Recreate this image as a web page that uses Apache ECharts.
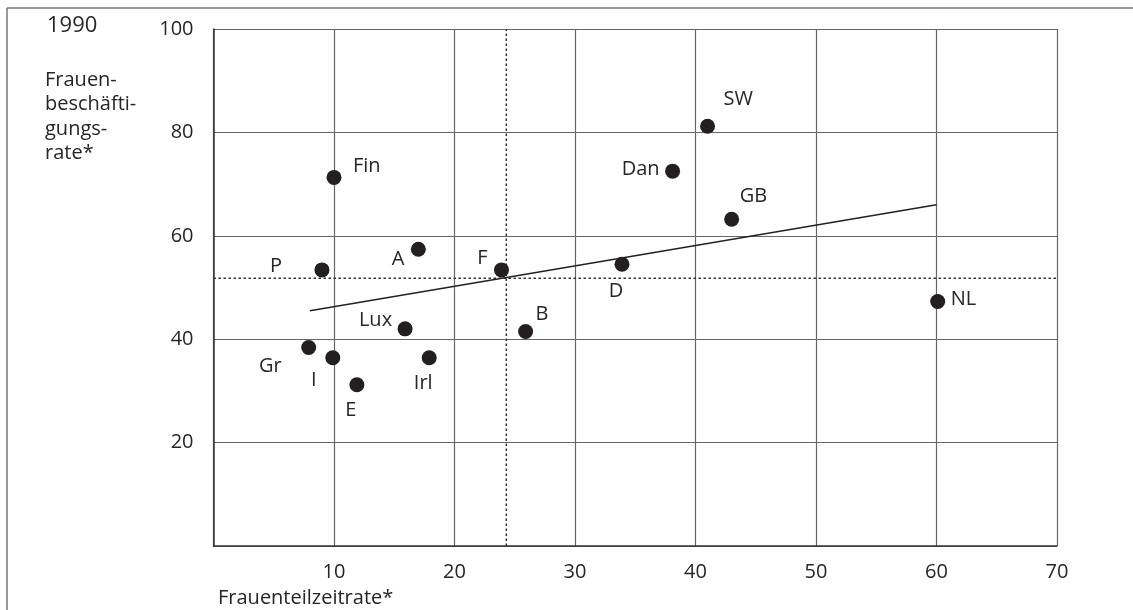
<!DOCTYPE html>
<html>
<head>
<meta charset="utf-8">
<script src="https://cdn.jsdelivr.net/npm/echarts@6/dist/echarts.min.js"></script>
<style>
html,body{margin:0;padding:0;background:#fff;}
#c{width:1133px;height:610px;}
</style>
</head>
<body>
<div id="c"></div>
<script>
// ---- data ----
var countries = ['Fin','SW','Dan','GB','D','NL','P','A','F','Lux','B','Gr','I','Irl','E'];
var partTimeRate = [10, 41, 38.1, 43, 33.9, 60.1, 9, 17, 23.9, 15.9, 25.9, 7.9, 9.9, 17.9, 11.9];
var employmentRate = [71.3, 81.2, 72.5, 63.2, 54.5, 47.3, 53.4, 57.4, 53.4, 42, 41.5, 38.4, 36.4, 36.4, 31.2];
var trendX = [8, 60];
var trendY = [45.5, 66];
var meanPartTime = 24.3;
var meanEmployment = 51.8;
var xTicks = [0, 10, 20, 30, 40, 50, 60, 70];
var yTicks = [0, 20, 40, 60, 80, 100];
var yearLabel = '1990';
var yTitle = 'Frauen-\nbeschäfti-\ngungs-\nrate*';
var xTitle = 'Frauenteilzeitrate*';

// ---- label placement (style only) ----
var labelLayout = {
  Fin: {align:'left', offset:[19,-11]},
  SW:  {align:'left', offset:[16,-27]},
  Dan: {align:'right', offset:[-13,-2]},
  GB:  {align:'left', offset:[8,-23]},
  D:   {align:'center', offset:[-6,27]},
  NL:  {align:'left', offset:[13,-2]},
  P:   {align:'center', offset:[-46,-4]},
  A:   {align:'right', offset:[-14,10]},
  F:   {align:'right', offset:[-14,-12]},
  Lux: {align:'right', offset:[-13,-9]},
  B:   {align:'left', offset:[10,-17]},
  Gr:  {align:'right', offset:[-27,19]},
  I:   {align:'center', offset:[-19,22]},
  Irl: {align:'center', offset:[-6,25]},
  E:   {align:'center', offset:[-6,26]}
};

var FONT = '"Open Sans", "Noto Sans", sans-serif';
var TXT = '#262626';

var points = countries.map(function(c, i){
  var l = labelLayout[c];
  return {
    name: c,
    value: [partTimeRate[i], employmentRate[i]],
    label: {show:true, position:'inside', align:l.align, verticalAlign:'middle', offset:l.offset,
            formatter:c, color:TXT, fontSize:20, fontFamily:FONT}
  };
});

var chart = echarts.init(document.getElementById('c'));
chart.setOption({
  animation:false,
  backgroundColor:'#fff',
  grid:{left:213.5, right:76, top:29, bottom:64},
  xAxis:{
    type:'value', min:xTicks[0], max:xTicks[xTicks.length-1], interval:10,
    axisLine:{show:true, onZero:false, lineStyle:{color:'#333', width:1.5}},
    axisTick:{show:false},
    axisLabel:{margin:16, color:TXT, fontSize:20, fontFamily:FONT,
      formatter:function(v){return v===0?'':String(v);}},
    splitLine:{show:true, lineStyle:{color:'#666', width:1.2}}
  },
  yAxis:{
    type:'value', min:yTicks[0], max:yTicks[yTicks.length-1], interval:20,
    axisLine:{show:true, onZero:false, lineStyle:{color:'#333', width:1.5}},
    axisTick:{show:false},
    axisLabel:{margin:20, color:TXT, fontSize:20, fontFamily:FONT,
      formatter:function(v){return v===0?'':String(v);}},
    splitLine:{show:true, lineStyle:{color:'#666', width:1.2}}
  },
  graphic:[
    {type:'line', shape:{x1:7, y1:8, x2:1133, y2:8}, style:{stroke:'#777', lineWidth:1.5}},
    {type:'line', shape:{x1:7, y1:8, x2:7, y2:610}, style:{stroke:'#777', lineWidth:1.5}},
    {type:'text', left:47, top:15, style:{text:yearLabel, fill:TXT, fontSize:22, fontFamily:FONT}},
    {type:'text', left:45, top:68, style:{text:yTitle, fill:TXT, fontSize:20, lineHeight:24.5, fontFamily:FONT}},
    {type:'text', left:218, top:588, style:{text:xTitle, fill:TXT, fontSize:20, fontFamily:FONT}}
  ],
  series:[
    {type:'line', data:[[meanPartTime, yTicks[0]],[meanPartTime, yTicks[yTicks.length-1]]], symbol:'none',
     lineStyle:{color:'#333', width:1.5, type:[2.5,2.5]}, silent:true, z:1},
    {type:'line', data:[[xTicks[0], meanEmployment],[xTicks[xTicks.length-1], meanEmployment]], symbol:'none',
     lineStyle:{color:'#333', width:1.5, type:[2.5,2.5]}, silent:true, z:1},
    {type:'line', data:[[trendX[0], trendY[0]],[trendX[1], trendY[1]]], symbol:'none',
     lineStyle:{color:'#222', width:1.5}, silent:true, z:2},
    {type:'scatter', data:points, symbol:'circle', symbolSize:15,
     itemStyle:{color:'#231f20', opacity:1}, z:3}
  ]
});
</script>
</body>
</html>
